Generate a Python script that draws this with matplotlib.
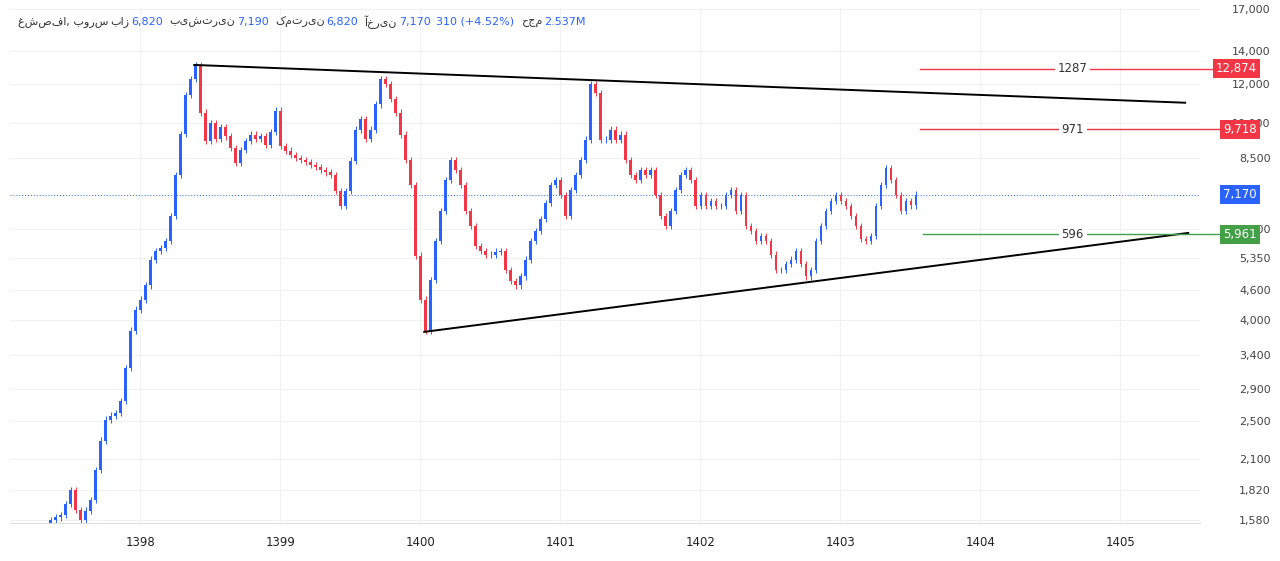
import numpy as np
import matplotlib
matplotlib.use("Agg")
import matplotlib.pyplot as plt

start_year, end_year = 1397.36, 1403.54
closes = [1580,1600,1617,1700,1815,1655,1580,1650,1733,1991,2285,2520,2566,2600,2750,3200,3810,4202,4400,4700,
          5300,5520,5600,5780,6490,7860,9500,11400,12280,13100,10500,9200,10000,9300,9800,9400,8900,8300,8830,9200,
          9480,9300,9400,9040,9600,10600,9000,8800,8630,8500,8430,8350,8230,8150,8040,7950,7860,7300,6800,7300,
          8400,9700,10170,9300,9700,10900,12280,11990,11170,10500,9480,8430,7500,5400,4400,3810,4826,5780,6640,7680,
          8430,8040,7500,6640,6190,5650,5520,5426,5426,5500,5520,5054,4800,4700,4900,5300,5780,6050,6400,6900,
          7500,7680,7160,6490,7330,7860,8430,9260,12000,11500,9260,9260,9700,9260,9480,8430,7860,7680,8040,7860,
          8040,7160,6490,6190,6640,7330,7860,8040,7680,6800,7160,6800,6960,6800,6800,7160,7330,6640,7160,6190,
          6050,5780,5915,5780,5426,5054,5054,5200,5300,5520,5200,4900,5054,5780,6190,6640,6960,7160,6960,6800,
          6490,6190,5835,5780,5915,6800,7500,8100,7680,7160,6640,6960,6820,7170]
first_open = 1560

upper_line_x = [1398.386, 1405.464]; upper_line_y = [13100, 10990]
lower_line_x = [1400.029, 1405.486]; lower_line_y = [3788, 6000]

levels = [12874, 9718, 5961]
level_labels = ["1287", "971", "596"]
level_colors = ["#f23645", "#f23645", "#43a047"]
last_price = 7170

yticks = [1580, 1820, 2100, 2500, 2900, 3400, 4000, 4600, 5350, 6100, 8500, 10000, 12000, 14000, 17000]
xticks = [1398, 1399, 1400, 1401, 1402, 1403, 1404, 1405]

header_parts = [("غشصفا, بورس", "g"), ("باز", "g"), ("6,820", "b"), ("بیشترین", "g"), ("7,190", "b"),
                ("کمترین", "g"), ("6,820", "b"), ("آخرین", "g"), ("7,170", "b"),
                ("310 (+4.52%)", "b"), ("حجم", "g"), ("2.537M", "b")]

UP, DOWN = "#2962ff", "#f23645"

fig = plt.figure(figsize=(12.8, 5.61), dpi=100)
W, H = 1280, 561
ax = fig.add_axes([10/W, 38/H, 1190/W, 515/H])
ax.set_yscale("log")
ax.set_ylim(1558, 17070)
ax.set_xlim(1397.07, 1405.57)

dates = np.linspace(start_year, end_year, len(closes))
opens = [first_open] + closes[:-1]
bw = (dates[1] - dates[0]) * 0.5
for d, o, c in zip(dates, opens, closes):
    col = UP if c >= o else DOWN
    lo, hi = min(o, c), max(o, c)
    ax.vlines(d, lo * 0.985, hi * 1.015, color=col, lw=0.7, zorder=3)
    ax.bar(d, hi - lo, bottom=lo, width=bw, color=col, zorder=3, linewidth=0)

ax.plot(upper_line_x, upper_line_y, color="black", lw=1.4, zorder=4)
ax.plot(lower_line_x, lower_line_y, color="black", lw=1.4, zorder=4)

ax.axhline(last_price, color=UP, lw=0.7, ls=(0, (1, 2)), zorder=2)

for lv, lab, colr, xs in zip(levels, level_labels, level_colors, [1403.57, 1403.57, 1403.59]):
    ax.plot([xs, 1405.72], [lv, lv], color=colr, lw=1, clip_on=False, zorder=4)
    ax.text(1404.66, lv, lab, ha="center", va="center", fontsize=8.5, color="#333",
            bbox=dict(facecolor="white", edgecolor="none", pad=2), zorder=5)

ax.set_yticks(yticks)
ax.set_yticklabels([f"{v:,}" for v in yticks])
ax.yaxis.tick_right()
ax.tick_params(axis="y", length=0, labelsize=8, colors="#444", pad=8)
for lab in ax.get_yticklabels():
    lab.set_horizontalalignment("right")
    lab.set_x(1.05)
ax.yaxis.set_minor_locator(matplotlib.ticker.NullLocator())
ax.set_xticks(xticks)
ax.set_xticklabels([str(v) for v in xticks])
ax.tick_params(axis="x", length=0, labelsize=8.5, colors="#222", pad=9)
ax.grid(True, color="#f2f2f2", lw=0.8)
ax.set_axisbelow(True)
for s in ["top", "right", "left"]:
    ax.spines[s].set_visible(False)
ax.spines["bottom"].set_color("#e0e0e0")

for lv, colr in zip(levels + [last_price], level_colors + [UP]):
    ax.annotate(f"{lv:,}", xy=(1.0, lv), xycoords=("axes fraction", "data"),
                xytext=(41, 0), textcoords="offset points", ha="right", va="center",
                fontsize=8.5, color="white", annotation_clip=False,
                bbox=dict(boxstyle="square,pad=0.25", facecolor=colr, edgecolor="none"))

fig.canvas.draw()
renderer = fig.canvas.get_renderer()
x = 18
gaps = {"g": 2, "b": 6}
for t, k in header_parts:
    c = "#333333" if k == "g" else UP
    txt = fig.text(x / W, 1 - 22 / H, t, fontsize=8, color=c, family="DejaVu Sans", va="center")
    w = txt.get_window_extent(renderer).width
    x += w + gaps[k]

fig.savefig("out.png", dpi=100, facecolor="white")
